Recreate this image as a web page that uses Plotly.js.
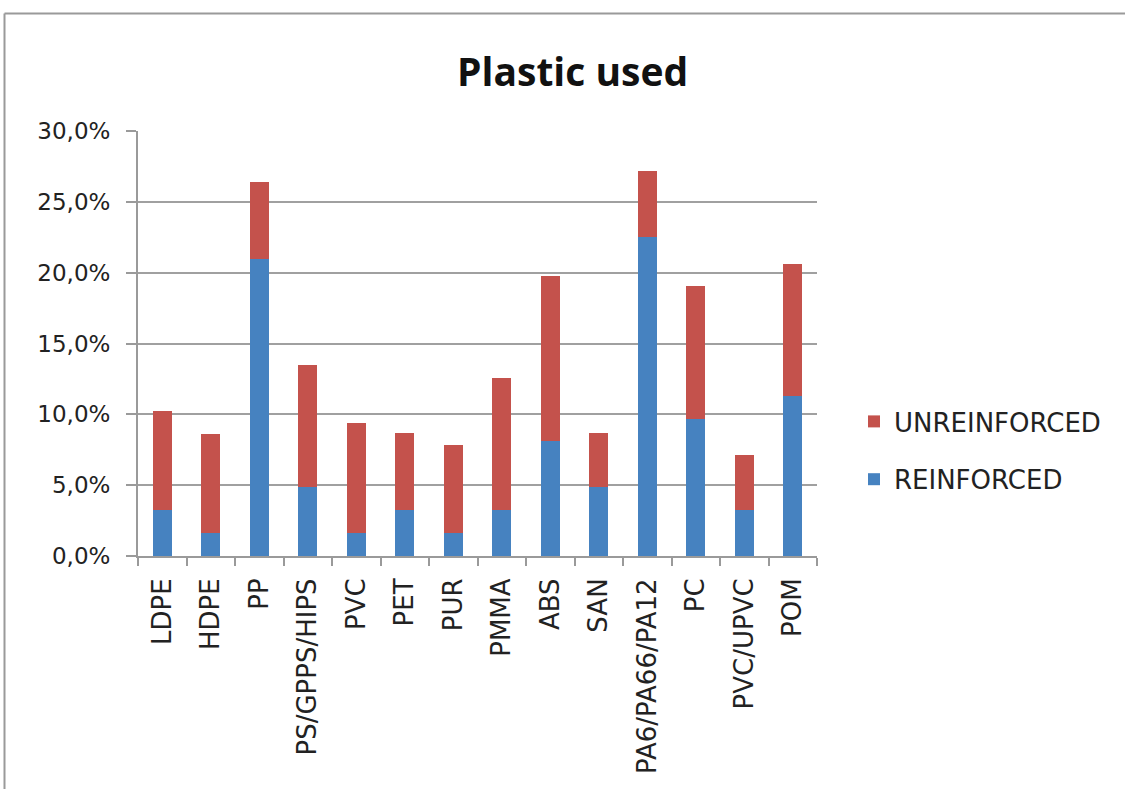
<!DOCTYPE html>
<html>
<head>
<meta charset="utf-8">
<script src="https://cdn.plot.ly/plotly-3.0.1.min.js"></script>
<style>html,body{margin:0;padding:0;background:#fff;}#chart{width:1125px;height:789px;}</style>
</head>
<body>
<div id="chart"></div>
<script>
const categories = ["LDPE","HDPE","PP","PS/GPPS/HIPS","PVC","PET","PUR","PMMA","ABS","SAN","PA6/PA66/PA12","PC","PVC/UPVC","POM"];
const reinforced   = [3.28, 1.64, 21.0, 4.85, 1.64, 3.28, 1.64, 3.28, 8.1, 4.85, 22.55, 9.65, 3.28, 11.3];
const unreinforced = [6.95, 6.97, 5.42, 8.6, 7.75, 5.4, 6.2, 9.29, 11.67, 3.85, 4.66, 9.43, 3.88, 9.33];
const yTicks = [0, 5, 10, 15, 20, 25, 30];
const yTickText = ["0,0%", "5,0%", "10,0%", "15,0%", "20,0%", "25,0%", "30,0%"];

const font = "DejaVu Sans, Open Sans, sans-serif";
const L = 138, R = 817, T = 131, B = 556, W = 1125, H = 789;
const px = v => (v - L) / (R - L);
const py = v => (B - v) / (B - T);

const traces = [
  {type: "bar", name: "REINFORCED", x: categories, y: reinforced,
   marker: {color: "#4682c0"}, legendgroup: "a", legendrank: 2},
  {type: "bar", name: "UNREINFORCED", x: categories, y: unreinforced,
   marker: {color: "#c4524c"}, legendgroup: "b", legendrank: 1}
];

const layout = {
  width: W, height: H,
  margin: {l: L, r: W - R, t: T, b: H - B},
  barmode: "stack", bargap: 0.6,
  paper_bgcolor: "#fff", plot_bgcolor: "#fff",
  font: {family: font, color: "#222"},
  title: {text: "<b>Plastic used</b>", font: {family: "Open Sans, sans-serif", size: 39, color: "#111"},
          x: 0.509, xanchor: "center", y: 1 - 72 / H, yanchor: "middle", yref: "container"},
  xaxis: {type: "category", tickangle: -90, tickfont: {size: 26, color: "#222"},
          ticks: "outside", tickson: "boundaries", ticklen: 8, tickcolor: "#9a9a9a", tickwidth: 2,
          ticklabelstandoff: 10,
          showline: true, linecolor: "#9a9a9a", linewidth: 2, showgrid: false},
  yaxis: {range: [0, 30], tickvals: yTicks, ticktext: yTickText,
          tickfont: {size: 23, color: "#222"}, ticks: "outside", ticklen: 10, tickcolor: "#9a9a9a", tickwidth: 2,
          ticklabelstandoff: 11,
          showline: true, linecolor: "#9a9a9a", linewidth: 2,
          showgrid: true, gridcolor: "#a0a0a0", gridwidth: 2, zeroline: false},
  legend: {x: px(854), xanchor: "left", y: py(398), yanchor: "top",
           font: {size: 26, color: "#222"}, traceorder: "grouped",
           tracegroupgap: 21, itemwidth: 30},
  shapes: [
    {type: "line", xref: "paper", yref: "paper", x0: px(4.5), x1: px(1125), y0: py(13.5), y1: py(13.5),
     line: {color: "#9a9a9a", width: 2}},
    {type: "line", xref: "paper", yref: "paper", x0: px(4.5), x1: px(4.5), y0: py(13.5), y1: py(789),
     line: {color: "#9a9a9a", width: 2}}
  ],
  showlegend: true
};

Plotly.newPlot("chart", traces, layout, {displayModeBar: false, staticPlot: true});
</script>
</body>
</html>
